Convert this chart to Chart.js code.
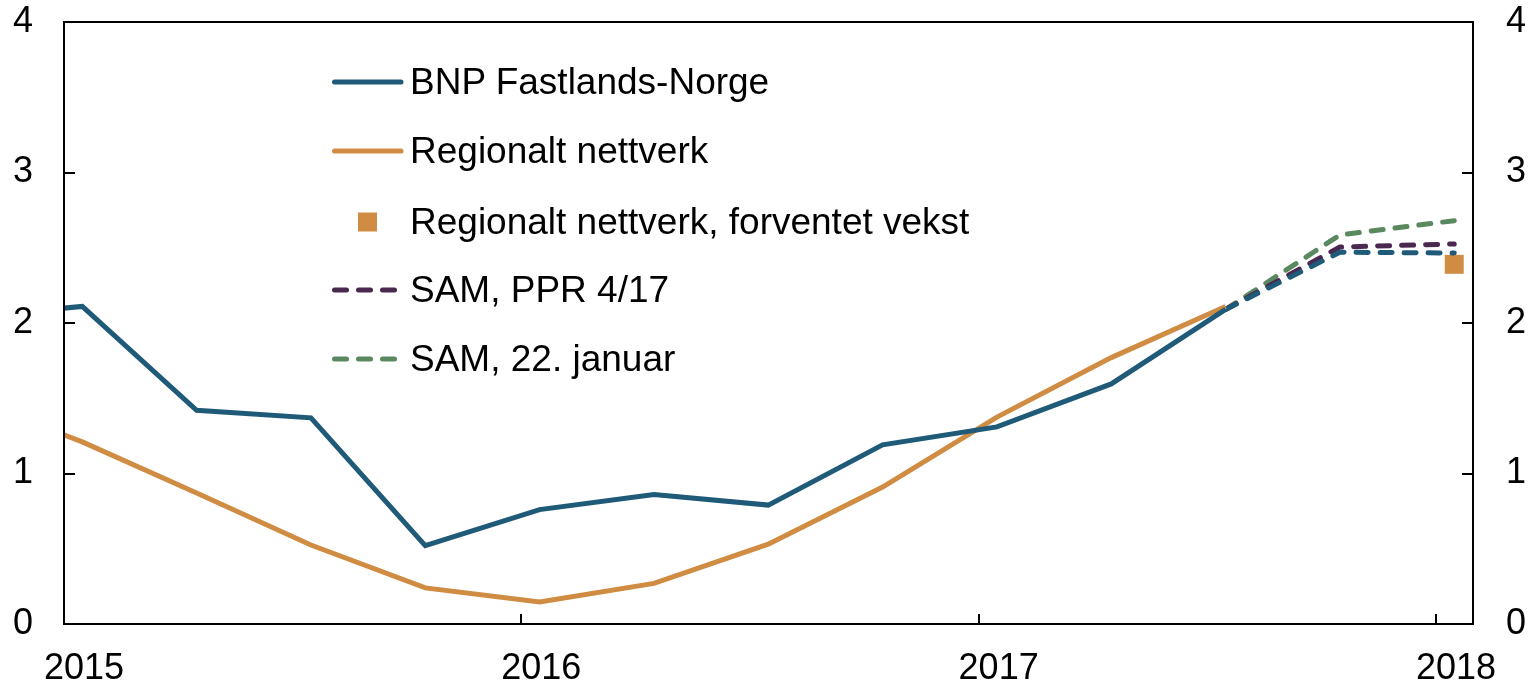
<!DOCTYPE html>
<html>
<head>
<meta charset="utf-8">
<script src="https://cdn.jsdelivr.net/npm/chart.js@4.4.1/dist/chart.umd.min.js"></script>
<style>
  html, body { margin: 0; padding: 0; background: #fff; }
  #wrap { position: relative; width: 1532px; height: 683px; }
  #legend { position: absolute; left: 330px; top: 0; font-family: "Liberation Sans", Arial, sans-serif; font-size: 37px; color: #000; }
  .item { position: absolute; left: 0; height: 44px; display: flex; align-items: center; white-space: nowrap; }
  .item svg { width: 76px; height: 20px; margin-right: 4px; }
</style>
</head>
<body>
<div id="wrap">
  <canvas id="chart" width="1532" height="683"></canvas>
  <div id="legend"></div>
</div>
<script>
// quarterly observations, placed at mid-January, April, July, October
const quarters = [2014.79, 2015.04, 2015.29, 2015.54, 2015.79, 2016.04, 2016.29, 2016.54, 2016.79, 2017.04, 2017.29, 2017.54];
const bnp      = [2.04, 2.11, 1.42, 1.37, 0.52, 0.76, 0.86, 0.79, 1.19, 1.31, 1.595, 2.09];
const regional = [1.50, 1.21, 0.87, 0.525, 0.24, 0.146, 0.27, 0.53, 0.91, 1.375, 1.77, 2.11];

// projections
const projQuarters = [2017.54, 2017.79, 2018.04];
const samBnp = [2.09, 2.47, 2.465];
const samPpr = [2.09, 2.505, 2.525];
const samJan = [2.09, 2.585, 2.68];
const expectedQuarter = [2018.04];
const expectedGrowth = [2.39];

const yearTicks = [2015, 2016, 2017, 2018];
const valueTicks = [0, 1, 2, 3, 4];

const colors = {
  blue: "#1f5a78",
  orange: "#d08c42",
  purple: "#4a2850",
  green: "#5a8960"
};

const FONT = "'Liberation Sans', Arial, sans-serif";

function pts(xs, ys) {
  return xs.map((x, i) => ({ x: x, y: ys[i] }));
}

const datasets = [
  { label: "BNP Fastlands-Norge", data: pts(quarters, bnp), borderColor: colors.blue, borderWidth: 5, kind: "line" },
  { label: "Regionalt nettverk", data: pts(quarters, regional), borderColor: colors.orange, borderWidth: 5, kind: "line" },
  { label: "", data: pts(projQuarters, samBnp), borderColor: colors.blue, borderWidth: 5, borderDash: [12, 12], borderCapStyle: "round", kind: "none" },
  { label: "SAM, PPR 4/17", data: pts(projQuarters, samPpr), borderColor: colors.purple, borderWidth: 5, borderDash: [12, 12], borderCapStyle: "round", kind: "dash" },
  { label: "SAM, 22. januar", data: pts(projQuarters, samJan), borderColor: colors.green, borderWidth: 5, borderDash: [12, 12], borderCapStyle: "round", kind: "dash" },
  { label: "Regionalt nettverk, forventet vekst", data: pts(expectedQuarter, expectedGrowth), borderColor: colors.orange, backgroundColor: colors.orange, showLine: false, pointStyle: "rect", pointRadius: 13.4, pointBorderWidth: 0, kind: "square" }
];
datasets.forEach(d => {
  d.fill = false;
  d.tension = 0;
  d.clip = 0;
  if (d.kind !== "square") d.pointRadius = 0;
});

// frame and inward tick marks
const framePlugin = {
  id: "frame",
  afterDraw(chart) {
    const { ctx, chartArea: a, scales } = chart;
    ctx.save();
    ctx.strokeStyle = "#000";
    ctx.lineWidth = 2;
    ctx.strokeRect(a.left, a.top, a.right - a.left, a.bottom - a.top);
    ctx.beginPath();
    yearTicks.forEach(v => {
      const x = Math.round(scales.x.getPixelForValue(v));
      ctx.moveTo(x, a.bottom);
      ctx.lineTo(x, a.bottom - 10);
    });
    valueTicks.forEach(v => {
      const y = Math.round(scales.y.getPixelForValue(v));
      ctx.moveTo(a.left, y);
      ctx.lineTo(a.left + 11, y);
      ctx.moveTo(a.right, y);
      ctx.lineTo(a.right - 11, y);
    });
    ctx.stroke();
    ctx.restore();
  }
};

const yTicks = scale => { scale.ticks = valueTicks.map(v => ({ value: v })); };
const fitY = w => scale => {
  scale.width = w;
  scale.paddingTop = 0;
  scale.paddingBottom = 0;
};

const chart = new Chart(document.getElementById("chart"), {
  type: "line",
  data: { datasets: datasets },
  options: {
    responsive: false,
    animation: false,
    layout: { padding: { top: 22, left: 0, right: 0, bottom: 0 } },
    plugins: { legend: { display: false }, tooltip: { enabled: false } },
    scales: {
      x: {
        type: "linear",
        min: 2015,
        max: 2018.081,
        afterBuildTicks: scale => { scale.ticks = yearTicks.map(v => ({ value: v })); },
        afterFit: scale => {
          scale.height = 59;
          scale.paddingLeft = 0;
          scale.paddingRight = 0;
        },
        grid: { display: false, drawTicks: false },
        border: { display: false },
        ticks: {
          padding: 23,
          labelOffset: 20,
          maxRotation: 0,
          autoSkip: false,
          color: "#000",
          font: { family: FONT, size: 36 },
          callback: v => String(v)
        }
      },
      y: {
        position: "left",
        min: 0,
        max: 4,
        afterBuildTicks: yTicks,
        afterFit: fitY(64),
        grid: { display: false, drawTicks: false },
        border: { display: false },
        ticks: { padding: 31, color: "#000", font: { family: FONT, size: 36 }, callback: v => String(v) }
      },
      y2: {
        position: "right",
        min: 0,
        max: 4,
        afterBuildTicks: yTicks,
        afterFit: fitY(59),
        grid: { display: false, drawTicks: false },
        border: { display: false },
        ticks: { padding: 33, color: "#000", font: { family: FONT, size: 36 }, callback: v => String(v) }
      }
    }
  },
  plugins: [framePlugin]
});

// legend inside the plot, built from the datasets
const legendOrder = [0, 1, 5, 3, 4];
const rowCenters = [82, 151, 222, 290, 359];
const legendEl = document.getElementById("legend");
legendOrder.forEach((idx, row) => {
  const d = datasets[idx];
  const item = document.createElement("div");
  item.className = "item";
  item.style.top = (rowCenters[row] - 22) + "px";
  let sample;
  if (d.kind === "square") {
    sample = '<rect x="28" y="0.5" width="19" height="19" fill="' + d.backgroundColor + '"/>';
  } else if (d.kind === "dash") {
    sample = '<line x1="4.5" y1="10" x2="70" y2="10" stroke="' + d.borderColor + '" stroke-width="5" stroke-linecap="round" stroke-dasharray="12 12"/>';
  } else {
    sample = '<line x1="4.5" y1="10" x2="71" y2="10" stroke="' + d.borderColor + '" stroke-width="5" stroke-linecap="round"/>';
  }
  item.innerHTML = '<svg viewBox="0 0 76 20">' + sample + '</svg><span>' + d.label + '</span>';
  legendEl.appendChild(item);
});
</script>
</body>
</html>
